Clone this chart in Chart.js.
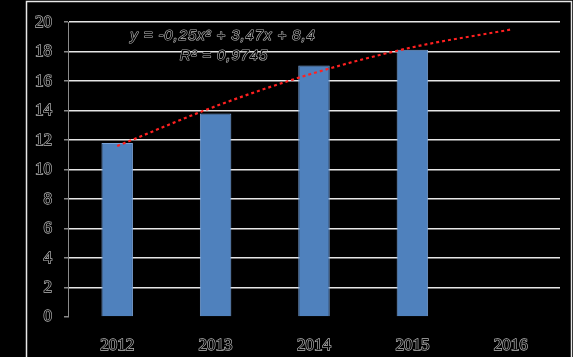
<!DOCTYPE html>
<html>
<head>
<meta charset="utf-8">
<script src="https://cdn.jsdelivr.net/npm/chart.js@4/dist/chart.umd.min.js"></script>
<style>
html,body{margin:0;padding:0;background:#000;}
#wrap{width:573px;height:357px;position:relative;}
</style>
</head>
<body>
<div id="wrap"><canvas id="c" width="573" height="357"></canvas></div>
<script>
const categories = ['2012', '2013', '2014', '2015', '2016'];
const barValues = [11.8, 13.8, 17.07, 18.13, null];
const trendValues = [11.6, 14.3, 16.55, 18.3, 19.5];
const yTicks = [0, 2, 4, 6, 8, 10, 12, 14, 16, 18, 20];
const equationText = 'y = -0,25x² + 3,47x + 8,4';
const r2Text = 'R² = 0,9745';

const frame = {
  id: 'frame',
  beforeDraw(chart) {
    const ctx = chart.ctx;
    ctx.save();
    ctx.fillStyle = '#000';
    ctx.fillRect(0, 0, chart.width, chart.height);
    ctx.strokeStyle = '#e8e8e8';
    ctx.lineWidth = 1.5;
    ctx.strokeRect(26.5, 1.5, 545, 360);
    ctx.restore();
  },
  afterDatasetsDraw(chart) {
    const ctx = chart.ctx;
    ctx.save();
    ctx.font = 'italic 15px "Liberation Sans"';
    ctx.letterSpacing = '0.9px';
    ctx.textAlign = 'center';
    ctx.textBaseline = 'middle';
    ctx.lineJoin = 'round';
    ctx.strokeStyle = '#b8b8b8';
    ctx.lineWidth = 1.2;
    ctx.fillStyle = '#000';
    ctx.strokeText(equationText, 223, 36);
    ctx.fillText(equationText, 223, 36);
    ctx.strokeText(r2Text, 224, 56);
    ctx.fillText(r2Text, 224, 56);
    ctx.restore();
  }
};

new Chart(document.getElementById('c'), {
  data: {
    labels: categories,
    datasets: [
      {
        type: 'line',
        data: trendValues,
        borderColor: '#ff2020',
        borderWidth: 2.2,
        borderDash: [3, 3],
        pointRadius: 0,
        tension: 0.4,
        cubicInterpolationMode: 'monotone',
        order: 0
      },
      {
        type: 'bar',
        data: barValues,
        backgroundColor: '#4f81bd',
        borderColor: '#7aa2d6',
        borderWidth: 1,
        categoryPercentage: 1,
        barPercentage: 0.32,
        order: 1
      }
    ]
  },
  plugins: [frame],
  options: {
    responsive: false,
    animation: false,
    devicePixelRatio: 1,
    layout: { padding: { left: 0, right: 13, top: 17, bottom: 0 } },
    plugins: { legend: { display: false }, tooltip: { enabled: false } },
    scales: {
      x: {
        afterFit(s) { s.height = 40; },
        grid: { display: false },
        border: { display: false },
        ticks: {
          color: '#000',
          textStrokeColor: '#b8b8b8',
          textStrokeWidth: 1.3,
          font: { family: 'Liberation Serif', size: 17 },
          padding: 10,
          maxRotation: 0
        }
      },
      y: {
        min: 0,
        max: 20,
        afterFit(s) { s.width = 68; },
        afterBuildTicks(s) { s.ticks = yTicks.map(v => ({ value: v })); },
        grid: {
          color: (c) => c.tick && c.tick.value === 0 ? 'rgba(0,0,0,0)' : '#e6e6e6',
          lineWidth: 1.5,
          tickColor: '#888',
          tickLength: 4
        },
        border: { display: true, color: '#8a8a8a', width: 1 },
        ticks: {
          color: '#000',
          textStrokeColor: '#b8b8b8',
          textStrokeWidth: 1.3,
          font: { family: 'Liberation Serif', size: 17 },
          padding: 12
        }
      }
    }
  }
});
</script>
</body>
</html>
